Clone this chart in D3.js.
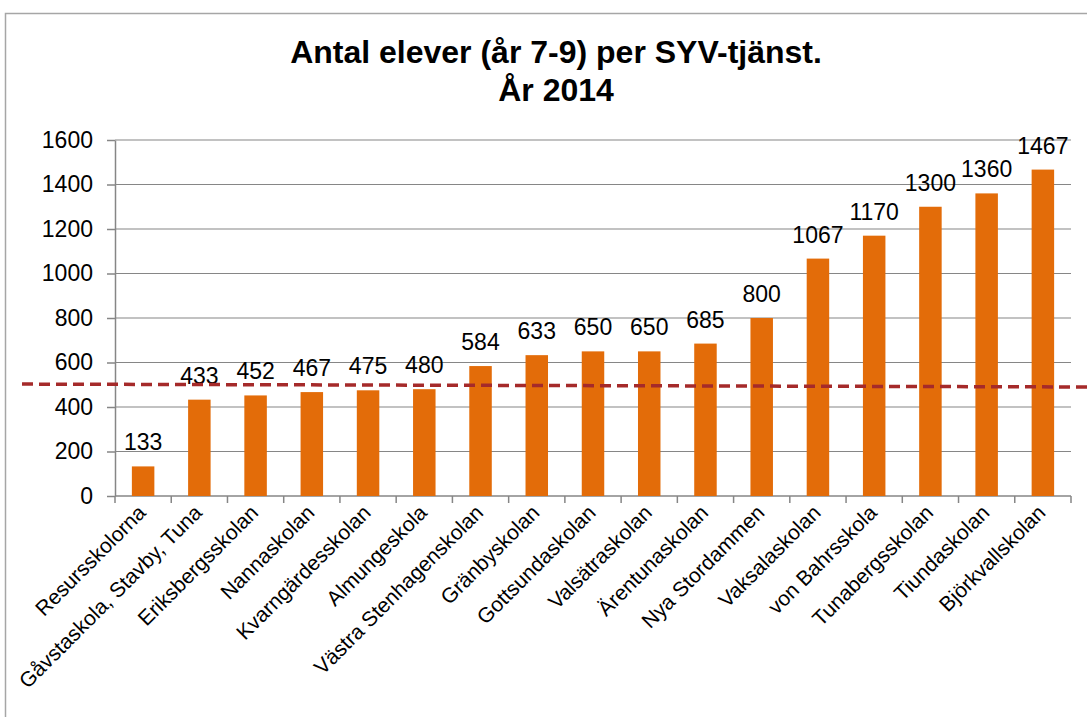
<!DOCTYPE html>
<html>
<head>
<meta charset="utf-8">
<script src="https://cdn.jsdelivr.net/npm/d3@7"></script>
<style>
  body { margin: 0; background: #fff; }
  svg { display: block; font-family: "Liberation Sans", Arial, sans-serif; }
</style>
</head>
<body>
<div id="chart"></div>
<script>
const schools = ["Resursskolorna", "Gåvstaskola, Stavby, Tuna", "Eriksbergsskolan", "Nannaskolan",
  "Kvarngärdesskolan", "Almungeskola", "Västra Stenhagenskolan", "Gränbyskolan", "Gottsundaskolan",
  "Valsätraskolan", "Ärentunaskolan", "Nya Stordammen", "Vaksalaskolan", "von Bahrsskola",
  "Tunabergsskolan", "Tiundaskolan", "Björkvallskolan"];
const students = [133, 433, 452, 467, 475, 480, 584, 633, 650, 650, 685, 800, 1067, 1170, 1300, 1360, 1467];
const yTicks = [0, 200, 400, 600, 800, 1000, 1200, 1400, 1600];
// dashed reference line, value at left and right end
const refLine = [503, 490];
const titleLines = ["Antal elever (år 7-9) per SYV-tjänst.", "År 2014"];

const width = 1087, height = 717;
const margin = {left: 115, right: 16, top: 140, bottom: 221};

const svg = d3.select("#chart").append("svg").attr("width", width).attr("height", height);

// outer frame
svg.append("rect").attr("x", 5.5).attr("y", 13.5).attr("width", 1100).attr("height", 720)
  .attr("fill", "none").attr("stroke", "#a6a6a6").attr("stroke-width", 1.5);

const x = d3.scaleBand().domain(schools).range([margin.left, width - margin.right]).paddingInner(0.6).paddingOuter(0.3);
const y = d3.scaleLinear().domain([0, 1600]).range([height - margin.bottom, margin.top]);

// title
svg.append("text").attr("text-anchor", "middle")
  .attr("font-size", "32px").attr("font-weight", "bold").attr("fill", "#000")
  .selectAll("tspan").data(titleLines).enter().append("tspan")
  .attr("x", 556).attr("y", (d, i) => 63 + i * 38).text(d => d);

// gridlines
svg.append("g").selectAll("line").data(yTicks.slice(1)).enter().append("line")
  .attr("x1", margin.left).attr("x2", width - margin.right)
  .attr("y1", d => y(d)).attr("y2", d => y(d))
  .attr("stroke", "#868686").attr("stroke-width", 1.2);

// y axis
const yAxis = svg.append("g").attr("transform", `translate(${margin.left},0)`)
  .call(d3.axisLeft(y).tickValues(yTicks).tickFormat(d3.format("d")).tickSize(8).tickSizeOuter(0).tickPadding(14));
yAxis.select(".domain").attr("stroke", "#868686").attr("stroke-width", 1.5);
yAxis.selectAll(".tick line").attr("stroke", "#868686").attr("stroke-width", 1.5);
yAxis.selectAll("text").attr("font-size", "23px").attr("fill", "#000").attr("font-family", "Liberation Sans, Arial, sans-serif");

// x axis with ticks at band edges
const xAxisG = svg.append("g").attr("transform", `translate(0,${y(0)})`);
xAxisG.append("line").attr("x1", margin.left).attr("x2", width - margin.right)
  .attr("stroke", "#868686").attr("stroke-width", 1.5);
const step = x.step();
const edges = d3.range(schools.length + 1).map(i => margin.left + i * step);
xAxisG.selectAll("line.tk").data(edges).enter().append("line").attr("class", "tk")
  .attr("x1", d => d).attr("x2", d => d).attr("y1", 0).attr("y2", 7)
  .attr("stroke", "#868686").attr("stroke-width", 1.5);

// bars
svg.append("g").selectAll("rect").data(students).enter().append("rect")
  .attr("x", (d, i) => x(schools[i])).attr("width", x.bandwidth())
  .attr("y", d => y(d)).attr("height", d => y(0) - y(d))
  .attr("fill", "#e36c09");

// value labels
svg.append("g").selectAll("text").data(students).enter().append("text")
  .attr("x", (d, i) => x(schools[i]) + x.bandwidth() / 2).attr("y", d => y(d) - 16)
  .attr("text-anchor", "middle").attr("font-size", "23px").attr("fill", "#000")
  .text(d => d);

// category labels
svg.append("g").selectAll("text").data(schools).enter().append("text")
  .attr("transform", d => `translate(${x(d) + x.bandwidth() / 2 + 4},${y(0) + 18}) rotate(-45)`)
  .attr("text-anchor", "end").attr("font-size", "21px").attr("fill", "#000")
  .text(d => d);

// dashed reference line
svg.append("line").attr("x1", 22).attr("x2", width)
  .attr("y1", y(refLine[0])).attr("y2", y(refLine[1]))
  .attr("stroke", "#a52a2a").attr("stroke-width", 3.5).attr("stroke-dasharray", "11,6");
</script>
</body>
</html>
